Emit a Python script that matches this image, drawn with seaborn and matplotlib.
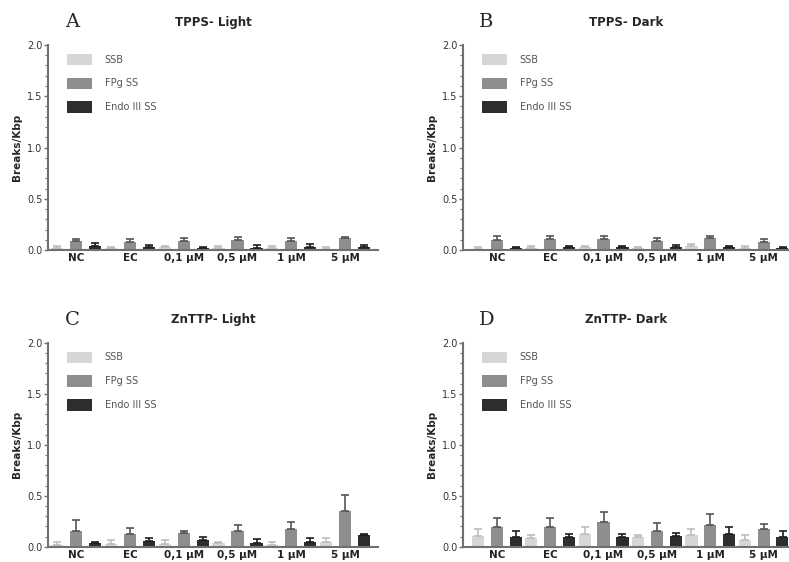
import numpy as np
import pandas as pd
import matplotlib
matplotlib.use('Agg')
import matplotlib.pyplot as plt
from matplotlib.ticker import MultipleLocator, FormatStrFormatter
import seaborn as sns

conditions = ['NC', 'EC', '0,1 \u00b5M', '0,5 \u00b5M', '1 \u00b5M', '5 \u00b5M']
series = ['SSB', 'FPg SS', 'Endo III SS']
colors = ['#d6d6d6', '#8e8e8e', '#2e2e2e']

# mean values (Breaks/Kbp) per series, in condition order
a_ssb = [0.02, 0.02, 0.03, 0.02, 0.02, 0.01]
a_fpg = [0.09, 0.08, 0.09, 0.10, 0.09, 0.12]
a_endo = [0.04, 0.03, 0.02, 0.02, 0.03, 0.03]
a_ssb_err = [0.02, 0.01, 0.01, 0.02, 0.02, 0.02]
a_fpg_err = [0.02, 0.03, 0.03, 0.03, 0.03, 0.01]
a_endo_err = [0.03, 0.02, 0.01, 0.03, 0.03, 0.02]

b_ssb = [0.01, 0.02, 0.03, 0.02, 0.04, 0.02]
b_fpg = [0.10, 0.11, 0.11, 0.09, 0.12, 0.08]
b_endo = [0.02, 0.03, 0.03, 0.03, 0.03, 0.02]
b_ssb_err = [0.02, 0.02, 0.01, 0.01, 0.02, 0.02]
b_fpg_err = [0.04, 0.03, 0.03, 0.03, 0.02, 0.03]
b_endo_err = [0.01, 0.01, 0.01, 0.02, 0.01, 0.01]

c_ssb = [0.02, 0.03, 0.03, 0.04, 0.02, 0.05]
c_fpg = [0.16, 0.13, 0.14, 0.16, 0.17, 0.35]
c_endo = [0.04, 0.06, 0.07, 0.04, 0.05, 0.12]
c_ssb_err = [0.03, 0.04, 0.04, 0.01, 0.03, 0.04]
c_fpg_err = [0.10, 0.05, 0.02, 0.05, 0.07, 0.16]
c_endo_err = [0.01, 0.03, 0.03, 0.04, 0.04, 0.01]

d_ssb = [0.11, 0.09, 0.13, 0.10, 0.12, 0.07]
d_fpg = [0.19, 0.19, 0.24, 0.16, 0.21, 0.17]
d_endo = [0.10, 0.10, 0.10, 0.11, 0.13, 0.10]
d_ssb_err = [0.06, 0.03, 0.06, 0.02, 0.05, 0.05]
d_fpg_err = [0.09, 0.09, 0.10, 0.07, 0.11, 0.05]
d_endo_err = [0.06, 0.03, 0.03, 0.03, 0.06, 0.06]

panels = [
    ('A', 'TPPS- Light', [a_ssb, a_fpg, a_endo], [a_ssb_err, a_fpg_err, a_endo_err]),
    ('B', 'TPPS- Dark', [b_ssb, b_fpg, b_endo], [b_ssb_err, b_fpg_err, b_endo_err]),
    ('C', 'ZnTTP- Light', [c_ssb, c_fpg, c_endo], [c_ssb_err, c_fpg_err, c_endo_err]),
    ('D', 'ZnTTP- Dark', [d_ssb, d_fpg, d_endo], [d_ssb_err, d_fpg_err, d_endo_err]),
]

positions = [
    [0.061, 0.555, 0.418, 0.365],
    [0.587, 0.555, 0.412, 0.365],
    [0.061, 0.027, 0.418, 0.363],
    [0.587, 0.027, 0.412, 0.363],
]
xlims = [(-0.52, 5.61), (-0.63, 5.46), (-0.52, 5.61), (-0.63, 5.46)]

sns.set_style('white')
plt.rcParams['font.family'] = ['DejaVu Sans']

fig = plt.figure(figsize=(7.89, 5.62), dpi=100)

for (letter, title, vals, errs), pos, xl in zip(panels, positions, xlims):
    ax = fig.add_axes(pos)
    rows = []
    for s, v, e in zip(series, vals, errs):
        for cond, vv, ee in zip(conditions, v, e):
            rows.append({'Condition': cond, 'Series': s, 'Value': vv, 'Err': ee})
    df = pd.DataFrame(rows)
    sns.barplot(data=df, x='Condition', y='Value', hue='Series', order=conditions,
                hue_order=series, palette=colors, errorbar=None, width=1.06,
                gap=0.35, ax=ax, linewidth=0)
    for cont, s in zip(ax.containers, series):
        xs = [p.get_x() + p.get_width() / 2 for p in cont.patches]
        sub = df[df['Series'] == s]
        ecol = '#bdbdbd' if s == 'SSB' else '#555555' if s == 'FPg SS' else '#1e1e1e'
        ax.errorbar(xs, sub['Value'].values,
                    yerr=[np.zeros(len(xs)), sub['Err'].values],
                    fmt='none', ecolor=ecol, elinewidth=1.2, capsize=3, capthick=1.2)

    ax.set_ylim(0, 2.0)
    ax.set_xlim(*xl)
    ax.yaxis.set_major_locator(MultipleLocator(0.5))
    ax.yaxis.set_minor_locator(MultipleLocator(0.1))
    ax.tick_params(axis='y', which='major', length=3, width=1, labelsize=7,
                   color='#707070', labelcolor='#333333', pad=1, left=True)
    ax.tick_params(axis='y', which='minor', length=2, width=0.8, color='#707070', left=True)
    ax.tick_params(axis='x', length=0, pad=2)
    ax.set_xticks(range(len(conditions)))
    ax.set_xticklabels(conditions, fontsize=7.5, fontweight='bold', color='#222222')
    ax.yaxis.set_major_formatter(FormatStrFormatter('%.1f'))
    ax.set_xlabel('')
    ax.set_ylabel('Breaks/Kbp', fontsize=7.5, fontweight='bold', labelpad=4)
    for side in ['top', 'right']:
        ax.spines[side].set_visible(False)
    for side in ['left', 'bottom']:
        ax.spines[side].set_color('#707070')
        ax.spines[side].set_linewidth(1.5)

    ax.set_title(title, fontsize=8.5, fontweight='bold', pad=14)
    ax.text(0.05, 1.07, letter, transform=ax.transAxes, fontsize=14,
            family='DejaVu Serif', ha='left', va='bottom')

    leg = ax.legend(loc='upper left', bbox_to_anchor=(0.03, 1.0), frameon=False,
                    fontsize=7, handlelength=2.6, handleheight=1.4,
                    labelspacing=1.3, handletextpad=1.3)
    for t in leg.get_texts():
        t.set_color('#555555')

fig.savefig('out.png', dpi=100)
